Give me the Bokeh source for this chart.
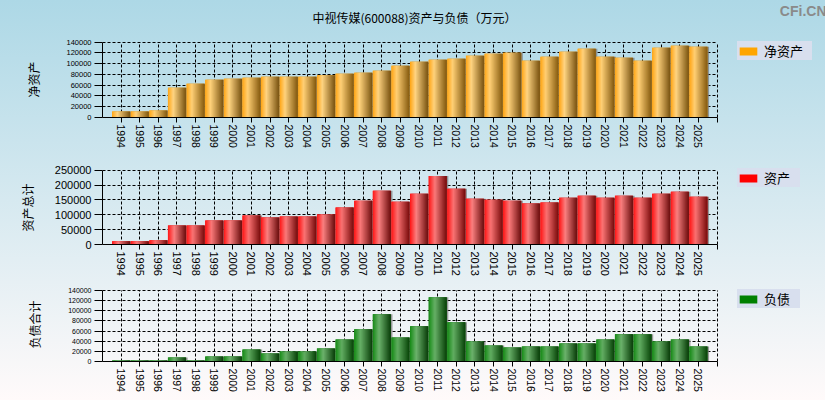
from bokeh.plotting import figure
from bokeh.models import (ColumnDataSource, FixedTicker, SingleIntervalTicker,
                          BasicTickFormatter, Legend, LegendItem, Label, Title)
from bokeh.core.properties import value
from bokeh.transform import dodge
from bokeh.layouts import column
from bokeh.embed import file_html
from bokeh.resources import INLINE

years = ["1994", "1995", "1996", "1997", "1998", "1999", "2000", "2001",
         "2002", "2003", "2004", "2005", "2006", "2007", "2008", "2009",
         "2010", "2011", "2012", "2013", "2014", "2015", "2016", "2017",
         "2018", "2019", "2020", "2021", "2022", "2023", "2024", "2025"]
net_assets = [11100, 11100, 13000, 55500, 62900, 70300, 72200, 74000,
              75900, 75900, 75900, 78300, 81400, 83300, 87000, 96200,
              103600, 107300, 109200, 114700, 118400, 120300, 105500, 112900,
              122100, 127700, 112900, 111000, 105500, 129500, 133200, 131400]
total_assets = [11100, 11100, 14400, 64400, 64400, 81100, 81100, 97800,
                91100, 94400, 94400, 101100, 124400, 147800, 181100, 144400,
                171100, 231100, 187800, 154400, 151100, 147800, 137800, 141100,
                157800, 164400, 157800, 164400, 157800, 171100, 177800, 161100]
liabilities = [2000, 2000, 2000, 7900, 2000, 9900, 9900, 23800,
               15800, 19800, 19800, 25800, 43600, 63400, 93100, 47500,
               69300, 126800, 77300, 39600, 31700, 27700, 29700, 29700,
               35700, 35700, 43600, 53500, 53500, 39600, 43600, 29700]

FONT = "Liberation Sans"
CJK = "Noto Sans CJK SC"
FIG_W = 825
LEFT = 98          # frame left edge (px)
AXIS_RIGHT = 716   # right end of the chart area (px)


def grad(stops, t):
    for (t0, c0), (t1, c1) in zip(stops[:-1], stops[1:]):
        if t0 <= t <= t1:
            f = (t - t0) / (t1 - t0)
            c = [round(a + (b - a) * f) for a, b in zip(c0, c1)]
            return "#%02x%02x%02x" % tuple(c)
    return "#%02x%02x%02x" % tuple(stops[-1][1])


def make_panel(values, y_top, y_step, ylabel, leg_label, base_color, stops,
               ytick_size, xtick_size, height, b_bottom, plot_h, ylab_standoff,
               ylab_offset, legend_y, label_w):
    n = len(years)
    frame_h = height - b_bottom
    x_end = -1 + (n + 1) * (FIG_W - LEFT) / (AXIS_RIGHT - LEFT)
    y_end = y_top * frame_h / plot_h
    src = ColumnDataSource(dict(x=list(range(n)), v=values))
    p = figure(width=FIG_W, height=height, x_range=(-1, x_end),
               y_range=(0, y_end), output_backend="svg", toolbar_location=None,
               min_border_left=LEFT, min_border_right=0,
               min_border_top=0, min_border_bottom=b_bottom, title=None)
    p.background_fill_alpha = 0
    p.border_fill_alpha = 0
    p.outline_line_color = None

    W = 0.96
    p.vbar(x=dodge('x', 0.09, range=p.x_range), top='v', width=W, source=src,
           fill_color="#7c7c7c", fill_alpha=0.75, line_color=None)
    base = p.vbar(x='x', top='v', width=W, source=src, fill_color=base_color,
                  line_color=None)
    N = 18
    for i in range(N):
        t = (i + 0.5) / N
        off = -W / 2 + (i + 0.5) * W / N
        p.vbar(x=dodge('x', off, range=p.x_range), top='v', width=W / N * 1.35,
               source=src, fill_color=grad(stops, t), line_color=None)

    xa = p.xaxis[0]
    xa.bounds = (-1, n)
    xa.ticker = FixedTicker(ticks=list(range(n + 1)))
    ov = {i: y for i, y in enumerate(years)}
    ov[n] = ""
    xa.major_label_overrides = ov
    xa.major_label_orientation = "vertical"
    xa.major_tick_out = 5
    xa.major_tick_in = 0
    xa.minor_tick_out = 0
    xa.minor_tick_in = 0
    xa.major_label_standoff = 2
    xa.major_label_text_font = FONT
    xa.major_label_text_font_size = xtick_size
    xa.major_label_text_color = "black"
    xa.axis_line_color = "black"
    xa.major_tick_line_color = "black"

    ya = p.yaxis[0]
    ya.bounds = (0, y_top)
    ya.ticker = SingleIntervalTicker(interval=y_step, num_minor_ticks=0)
    ya.formatter = BasicTickFormatter(use_scientific=False)
    ya.major_tick_out = 8
    ya.major_tick_in = 0
    ya.minor_tick_out = 0
    ya.minor_tick_in = 0
    ya.major_label_standoff = 3
    ya.major_label_text_font = FONT
    ya.major_label_text_font_size = ytick_size
    ya.major_label_text_color = "black"
    ya.axis_line_color = "black"
    ya.major_tick_line_color = "black"

    ytitle = Title(text=ylabel, align="left", offset=ylab_offset,
                   standoff=ylab_standoff, text_font=CJK, text_font_size="12px",
                   text_font_style="normal", text_color="black")
    p.add_layout(ytitle, "left")

    xg, yg = p.xgrid[0], p.ygrid[0]
    xg.bounds = (-1, n)
    yg.bounds = (0, y_top)
    xg.cross_bounds = (0, y_top)
    yg.cross_bounds = (-1, n)
    for g in (xg, yg):
        g.grid_line_color = "black"
        g.grid_line_dash = "3 2"
        g.grid_line_width = 1

    leg = Legend(items=[LegendItem(label=value(leg_label), renderers=[base])],
                 location=(635, legend_y))
    leg.background_fill_color = "#d8dfee"
    leg.background_fill_alpha = 1
    leg.border_line_color = None
    leg.label_text_font = CJK
    leg.label_text_font_size = "13px"
    leg.label_text_color = "black"
    leg.glyph_width = 22
    leg.glyph_height = 10
    leg.label_height = 14
    leg.label_width = label_w
    leg.padding = 6
    leg.spacing = 0
    leg.margin = 0
    leg.label_standoff = 5
    p.add_layout(leg)
    return p


p1 = make_panel(net_assets, 140000, 20000, "净资产", "净资产", "#ffa500",
                [(0, (255, 165, 20)), (0.3, (255, 212, 130)), (1, (122, 84, 18))],
                "7.5px", "10.5px", 150, 32, 76, 44, 20, 57, 48)
p1.add_layout(Label(x=312, y=100, x_units="screen", y_units="screen",
                    text="中视传媒(600088)资产与负债（万元）", text_font=CJK,
                    text_font_size="12px", text_color="black",
                    text_align="center", text_baseline="middle"))
p1.add_layout(Label(x=724, y=107, x_units="screen", y_units="screen",
                    text="CFi.CN", text_font=FONT, text_font_size="14px",
                    text_font_style="bold", text_color="#8a8a8a",
                    text_align="right", text_baseline="alphabetic"))

p2 = make_panel(total_assets, 250000, 50000, "资产总计", "资产", "#ff0000",
                [(0, (255, 20, 20)), (0.35, (250, 128, 128)), (1, (108, 14, 14))],
                "11px", "11px", 128, 33, 75, 32, 13, 57, 36)

p3 = make_panel(liabilities, 140000, 20000, "负债合计", "负债", "#008000",
                [(0, (22, 138, 22)), (0.35, (108, 178, 108)), (1, (10, 62, 10))],
                "7px", "10.5px", 122, 39, 71, 45, 13, 53, 36)

layout = column(p1, p2, p3,
                styles={"background": "linear-gradient(to bottom, #add8e6, #fffafa)"})

open("out.html", "w").write(file_html(layout, INLINE))
